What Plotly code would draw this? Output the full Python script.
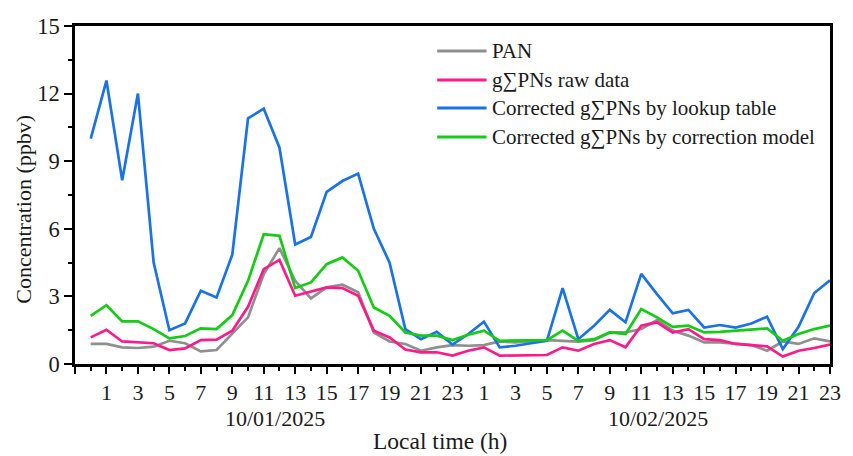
import plotly.graph_objects as go

# ---- data ----
hour_index = list(range(48))
hour_labels = [str(h) for h in range(24)] * 2
day_labels = ["10/01/2025", "10/02/2025"]
day_label_pos = [11.7, 36.05]

series_names = [
    "PAN",
    "g\u2211PNs raw data",
    "Corrected g\u2211PNs by lookup table",
    "Corrected g\u2211PNs by correction model",
]

pan = [0.89, 0.89, 0.74, 0.71, 0.77, 1.03, 0.92, 0.56, 0.62, 1.33, 2.07, 3.99,
       5.14, 3.69, 2.91, 3.40, 3.52, 3.18, 1.40, 1.00, 0.89, 0.59, 0.74, 0.84,
       0.81, 0.84, 1.00, 0.96, 1.00, 1.06, 1.03, 0.99, 1.06, 1.40, 1.40, 1.55,
       1.95, 1.48, 1.26, 0.96, 0.96, 0.89, 0.84, 0.59, 1.00, 0.89, 1.14, 1.00]

raw = [1.18, 1.52, 1.00, 0.96, 0.92, 0.62, 0.69, 1.06, 1.08, 1.48, 2.54, 4.21,
       4.62, 3.03, 3.22, 3.40, 3.37, 3.03, 1.48, 1.18, 0.64, 0.52, 0.52, 0.37,
       0.59, 0.74, 0.37, 0.37, 0.40, 0.40, 0.74, 0.59, 0.89, 1.06, 0.74, 1.70,
       1.85, 1.40, 1.55, 1.10, 1.06, 0.89, 0.84, 0.78, 0.33, 0.59, 0.71, 0.86]

lookup = [10.0, 12.58, 8.15, 12.0, 4.5, 1.5, 1.8, 3.25, 2.95, 4.85, 10.9, 11.33,
          9.6, 5.3, 5.64, 7.64, 8.12, 8.45, 6.0, 4.5, 1.55, 1.1, 1.43, 0.86,
          1.33, 1.88, 0.74, 0.81, 0.92, 1.03, 3.37, 1.1, 1.7, 2.4, 1.85, 4.0,
          3.1, 2.25, 2.4, 1.62, 1.73, 1.62, 1.8, 2.1, 0.66, 1.65, 3.15, 3.72]

model = [2.14, 2.61, 1.89, 1.89, 1.55, 1.14, 1.24, 1.58, 1.55, 2.17, 3.69, 5.76,
         5.69, 3.37, 3.62, 4.43, 4.73, 4.14, 2.51, 2.14, 1.40, 1.26, 1.26, 1.06,
         1.30, 1.48, 1.03, 1.03, 1.03, 1.06, 1.48, 1.03, 1.10, 1.40, 1.33, 2.44,
         2.07, 1.65, 1.70, 1.40, 1.43, 1.48, 1.52, 1.58, 1.03, 1.33, 1.55, 1.70]

y_ticks = [0, 3, 6, 9, 12, 15]

# ---- style ----
colors = ["#8f8f8f", "#ff1a8c", "#1a72e6", "#14cc14"]
FONT = "Liberation Serif, Times New Roman, serif"
TXT = "#1a1a1a"
W, H = 853, 456
L, R, T, B = 75, 13, 26, 92
PW, PH = W - L - R, H - T - B


def px(x):
    return (x - L) / PW


def py(y):
    return (H - B - y) / PH


fig = go.Figure()
for name, vals, col in zip(series_names, [pan, raw, lookup, model], colors):
    fig.add_trace(go.Scatter(x=hour_index, y=vals, mode="lines", name=name,
                             line=dict(color=col, width=2.7), showlegend=False))

# x ticks: major at odd indices (labels), minor every hour
tickvals = [-1] + [i for i in hour_index if i % 2 == 1]
ticktext = [""] + [hour_labels[i] for i in hour_index if i % 2 == 1]

fig.update_xaxes(
    range=[-1, 47], tickmode="array", tickvals=tickvals, ticktext=ticktext,
    ticks="outside", ticklen=7, tickwidth=2, tickcolor="black",
    minor=dict(dtick=1, tick0=0, ticks="outside", ticklen=4, tickwidth=2, tickcolor="black"),
    showline=True, linewidth=2.5, linecolor="black", mirror=True,
    showgrid=False, zeroline=False,
    tickfont=dict(family=FONT, size=22, color=TXT),
)
fig.update_yaxes(
    range=[0, 15], tickmode="array", tickvals=y_ticks,
    ticks="outside", ticklen=8, tickwidth=2, tickcolor="black",
    minor=dict(dtick=1.5, tick0=0, ticks="outside", ticklen=4, tickwidth=2, tickcolor="black"),
    showline=True, linewidth=2.5, linecolor="black", mirror=True,
    showgrid=False, zeroline=False,
    tickfont=dict(family=FONT, size=22.5, color=TXT),
)

annotations = []
for lab, pos in zip(day_labels, day_label_pos):
    annotations.append(dict(x=pos, xref="x", y=py(418), yref="paper", text=lab,
                            showarrow=False, xanchor="center", yanchor="middle",
                            font=dict(family=FONT, size=22, color=TXT)))
annotations.append(dict(x=px(445), xref="paper", y=py(441), yref="paper",
                        text="Local time (h)", showarrow=False, xanchor="center",
                        yanchor="middle", font=dict(family=FONT, size=23.5, color=TXT)))
annotations.append(dict(x=px(22), xref="paper", y=py(209), yref="paper",
                        text="Concentration (ppbv)", showarrow=False, textangle=-90,
                        xanchor="center", yanchor="middle",
                        font=dict(family=FONT, size=22, color=TXT)))

# manual legend
shapes = []
leg_y = [51, 80, 108, 137]
for name, col, yy in zip(series_names, colors, leg_y):
    shapes.append(dict(type="line", xref="paper", yref="paper", x0=px(442), x1=px(492),
                       y0=py(yy), y1=py(yy), line=dict(color=col, width=3)))
    annotations.append(dict(x=px(496), xref="paper", y=py(yy), yref="paper", text=name,
                            showarrow=False, xanchor="left", yanchor="middle",
                            font=dict(family=FONT, size=21, color=TXT)))

fig.update_layout(
    width=W, height=H, margin=dict(l=L, r=R, t=T, b=B),
    paper_bgcolor="white", plot_bgcolor="white",
    annotations=annotations, shapes=shapes, showlegend=False,
)

fig.write_html("out.html")
